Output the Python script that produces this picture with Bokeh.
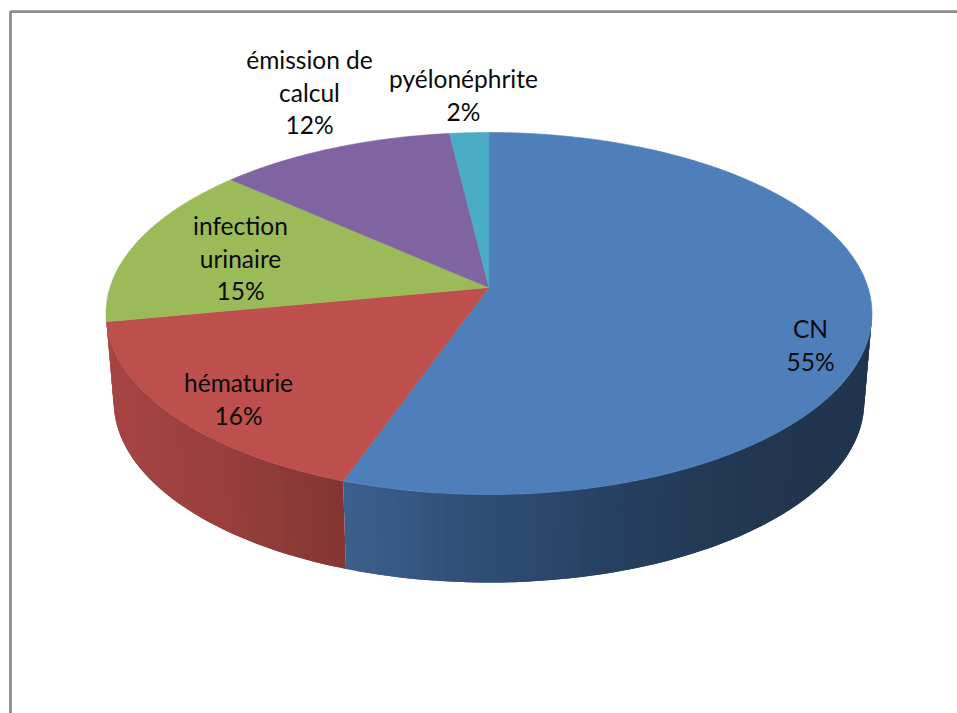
import numpy as np
from bokeh.plotting import figure
from bokeh.models import Range1d
from bokeh.core.properties import value
from bokeh.embed import file_html
from bokeh.resources import INLINE

# Data (labels show the rounded figures)
categories = ["CN", "hématurie", "infection urinaire", "émission de calcul", "pyélonéphrite"]
shares = [55.4, 16.6, 14.6, 11.5, 1.9]
percent_labels = ["55%", "16%", "15%", "12%", "2%"]
label_lines = [["CN"], ["hématurie"], ["infection", "urinaire"], ["émission de", "calcul"], ["pyélonéphrite"]]

top_colors = ["#4f7fba", "#bd504d", "#9bbb59", "#8064a2", "#4bacc6"]
side_ramps = {
    0: [(344, "#3b5f8d"), (480, "#2f4d75"), (620, "#25405f"), (760, "#22364f"), (880, "#20344e")],
    1: [(100, "#a84543"), (220, "#983f3c"), (347, "#833532")],
}

# Geometry of the drawing, in page pixels
W, H = 957, 713
CX, CY = 488.5, 287.0
SX, SY, K = 379.0, 177.3, 0.1437
DEPTH, BOTTOM_SCALE = 88.0, 0.98
label_pos = [(810, 328), (238, 382), (240, 225), (309, 59), (463, 78)]
LINE_GAP = 32.5
FONT = "Lato"
FONT_SIZE = "24.5px"


def project(theta):
    X, Y = np.sin(theta), np.cos(theta)
    d = 1 + K * Y
    return SX * X / d, -SY * Y / d


def hex_rgb(c):
    return np.array([int(c[i:i + 2], 16) for i in (1, 3, 5)], dtype=float)


def ramp_color(ramp, x):
    xs = [a for a, _ in ramp]
    rgb = [np.interp(x, xs, [hex_rgb(c)[i] for _, c in ramp]) for i in range(3)]
    return "#%02x%02x%02x" % tuple(int(round(v)) for v in rgb)


p = figure(width=W, height=H, output_backend="svg", toolbar_location=None,
           x_range=Range1d(0, W), y_range=Range1d(H, 0), min_border=0)
p.axis.visible = False
p.grid.visible = False
p.outline_line_color = None
p.background_fill_color = "white"

# chart frame
p.line([10, 10, W], [H, 11.2, 11.2], line_color="#8c8c8c", line_width=2.8)

edges = np.cumsum([0] + shares) / sum(shares) * 2 * np.pi

# side wall (front part only); each strip overlaps the next to avoid seams
side_lo, side_hi = np.radians(98), np.radians(262)
sx, sy, sc = [], [], []
for i, ramp in side_ramps.items():
    a = max(edges[i], side_lo)
    b = side_hi if i == 1 else min(edges[i + 1], side_hi)
    n = max(2, int((b - a) / np.radians(1.5)))
    ts = np.linspace(a, b, n + 1)
    px, py = project(ts)
    order = range(n) if i == 1 else range(n - 1, -1, -1)
    for j in order:
        if i == 1:
            j0, j1 = j, min(j + 2, n)
        else:
            j0, j1 = max(j - 1, 0), j + 1
        seg_x, seg_y = px[j0:j1 + 1], py[j0:j1 + 1]
        qx = np.r_[CX + seg_x, CX + BOTTOM_SCALE * seg_x[::-1]]
        qy = np.r_[CY + seg_y, CY + seg_y[::-1] + DEPTH]
        sx.append(qx.tolist())
        sy.append(qy.tolist())
        sc.append(ramp_color(ramp, 0.5 * (CX + px[j] + CX + px[j + 1])))
p.patches(sx, sy, fill_color=sc, line_color=None)

# top face
tx, ty = [], []
for i in range(len(shares)):
    ts = np.linspace(edges[i], edges[i + 1], 200)
    px, py = project(ts)
    tx.append(np.r_[CX, CX + px].tolist())
    ty.append(np.r_[CY, CY + py].tolist())
p.patches(tx, ty, fill_color=top_colors, line_color=top_colors, line_width=0.6)

# labels
lx, ly, lt = [], [], []
for lines, pct, (x0, y0) in zip(label_lines, percent_labels, label_pos):
    for k, s in enumerate(lines + [pct]):
        lx.append(x0)
        ly.append(y0 + k * LINE_GAP)
        lt.append(s)
p.text(lx, ly, text=lt, text_font=value(FONT), text_font_size=value(FONT_SIZE),
       text_color="#0a0a0a", text_align="center", text_baseline="middle")

open("out.html", "w").write(file_html(p, INLINE))
